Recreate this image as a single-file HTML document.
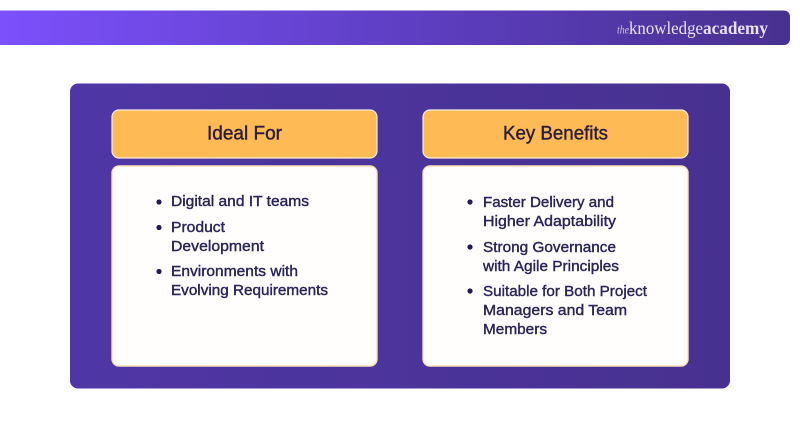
<!DOCTYPE html>
<html>
<head>
<meta charset="utf-8">
<style>
html,body{margin:0;padding:0;background:#fff;width:800px;height:424px;overflow:hidden}
svg{display:block}
.t{font-family:"Liberation Sans",sans-serif;font-size:14.8px;fill:#2a2458;stroke:#2a2458;stroke-width:.4px}
.h{font-family:"Liberation Sans",sans-serif;font-size:19px;fill:#2a1c3c;stroke:#2a1c3c;stroke-width:.4px}
.l{font-family:"Liberation Serif",serif;font-size:18px;fill:#e6e1f3}
</style>
</head>
<body>
<svg width="800" height="424" viewBox="0 0 800 424" xmlns="http://www.w3.org/2000/svg">
<defs>
<linearGradient id="bar" x1="0" y1="0" x2="1" y2="0">
<stop offset="0" stop-color="#7c50fc"/>
<stop offset=".5" stop-color="#5f3fc4"/>
<stop offset="1" stop-color="#47318f"/>
</linearGradient>
<linearGradient id="panel" x1="0" y1="0" x2="1" y2="0">
<stop offset="0" stop-color="#4f36a6"/>
<stop offset="1" stop-color="#47318f"/>
</linearGradient>
</defs>
<rect width="800" height="424" fill="#fff"/>
<path d="M0 10.500H784a6 6 0 0 1 6 6V39a6 6 0 0 1-6 6H0Z" fill="url(#bar)"/>
<text class="l" x="617" y="33.500" font-style="italic" textLength="12" lengthAdjust="spacingAndGlyphs" style="font-size:12px;opacity:.8">the</text>
<text class="l" x="629" y="34" textLength="74" lengthAdjust="spacingAndGlyphs">knowledge</text>
<text class="l" x="703" y="34" font-weight="bold" textLength="65" lengthAdjust="spacingAndGlyphs">academy</text>

<rect x="70" y="83.500" width="660" height="305" rx="8" fill="url(#panel)"/>

<rect x="112" y="110" width="265" height="48" rx="7" fill="#fdba55" stroke="#fbeedb" stroke-width="1.200"/>
<rect x="423" y="110" width="265" height="48" rx="7" fill="#fdba55" stroke="#fbeedb" stroke-width="1.200"/>
<rect x="112" y="166" width="265" height="200" rx="7" fill="#fffefd" stroke="#fbe0b6" stroke-width="1.400"/>
<rect x="423" y="166" width="265" height="200" rx="7" fill="#fffefd" stroke="#fbe0b6" stroke-width="1.400"/>

<text class="h" x="207" y="139.500" textLength="75" lengthAdjust="spacingAndGlyphs">Ideal For</text>
<text class="h" x="503" y="139.500" textLength="105" lengthAdjust="spacingAndGlyphs">Key Benefits</text>

<g fill="#221c52">
<circle cx="159" cy="202" r="2.600"/>
<circle cx="159" cy="227.500" r="2.600"/>
<circle cx="159" cy="271.500" r="2.600"/>
<circle cx="470" cy="202" r="2.600"/>
<circle cx="470" cy="247" r="2.600"/>
<circle cx="470" cy="291" r="2.600"/>
</g>

<text class="t" x="171" y="206" textLength="138" lengthAdjust="spacingAndGlyphs">Digital and IT teams</text>
<text class="t" x="171" y="232" textLength="54" lengthAdjust="spacingAndGlyphs">Product</text>
<text class="t" x="171" y="251" textLength="93" lengthAdjust="spacingAndGlyphs">Development</text>
<text class="t" x="171" y="276" textLength="127" lengthAdjust="spacingAndGlyphs">Environments with</text>
<text class="t" x="171" y="295" textLength="157" lengthAdjust="spacingAndGlyphs">Evolving Requirements</text>

<text class="t" x="483" y="207" textLength="131" lengthAdjust="spacingAndGlyphs">Faster Delivery and</text>
<text class="t" x="483" y="226" textLength="133" lengthAdjust="spacingAndGlyphs">Higher Adaptability</text>
<text class="t" x="483" y="252" textLength="133" lengthAdjust="spacingAndGlyphs">Strong Governance</text>
<text class="t" x="483" y="271" textLength="136" lengthAdjust="spacingAndGlyphs">with Agile Principles</text>
<text class="t" x="483" y="296" textLength="164" lengthAdjust="spacingAndGlyphs">Suitable for Both Project</text>
<text class="t" x="483" y="315" textLength="144" lengthAdjust="spacingAndGlyphs">Managers and Team</text>
<text class="t" x="483" y="334" textLength="64" lengthAdjust="spacingAndGlyphs">Members</text>
</svg>
</body>
</html>
